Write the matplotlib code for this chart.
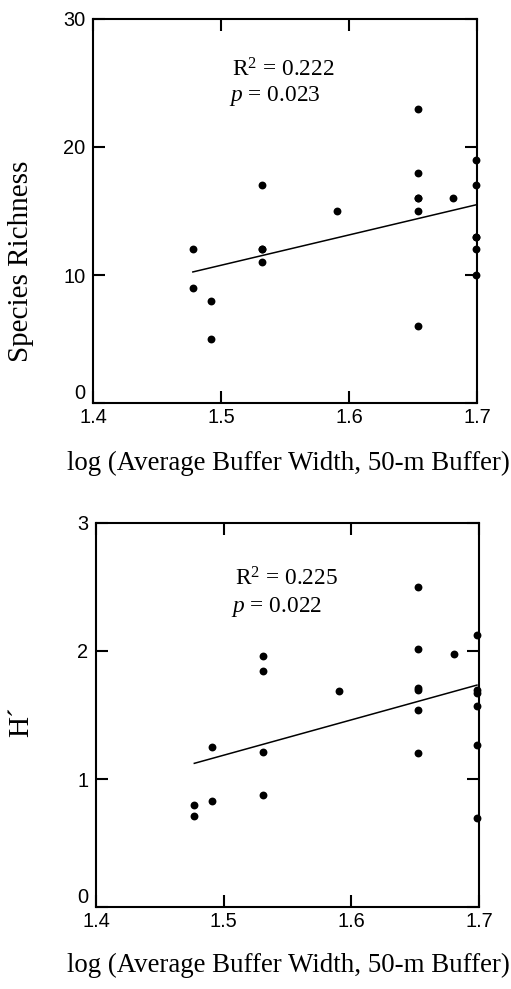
import matplotlib
matplotlib.use("Agg")
import matplotlib.pyplot as plt
import numpy as np

plt.rcParams['mathtext.fontset'] = 'custom'
plt.rcParams['mathtext.rm'] = 'Liberation Serif'
plt.rcParams['mathtext.it'] = 'Liberation Serif:italic'

# log average buffer width (50-m buffer) per site
buffer_rich = [1.478, 1.478, 1.492, 1.492, 1.532, 1.532, 1.532, 1.532,
               1.591, 1.654, 1.654, 1.654, 1.654, 1.654, 1.654, 1.6815,
               1.699, 1.699, 1.699, 1.699, 1.699, 1.699]
richness = [12, 9, 8, 5, 17, 12, 12, 11,
            15, 23, 18, 16, 16, 15, 6, 16,
            19, 17, 13, 13, 12, 10]

buffer_h = [1.477, 1.477, 1.491, 1.491, 1.531, 1.531, 1.531, 1.531,
            1.5906, 1.6526, 1.6526, 1.6526, 1.6526, 1.6526, 1.6526, 1.6807,
            1.6984, 1.6984, 1.6984, 1.6984, 1.6984, 1.6984]
shannon = [0.80, 0.713, 0.828, 1.252, 1.961, 1.841, 1.208, 0.872,
           1.6875, 2.497, 2.018, 1.711, 1.695, 1.541, 1.20, 1.976,
           2.127, 1.695, 1.669, 1.570, 1.263, 0.695]

xlab = "log (Average Buffer Width, 50-m Buffer)"
serif = "Liberation Serif"
sans = "Liberation Sans"


def panel(ax, x, y, ylim, yticks, ylabel, stats, ylab_pos, xlab_pos, stat_y):
    x, y = np.array(x), np.array(y)
    ax.scatter(x, y, s=32, c="black", zorder=3, clip_on=False, linewidths=0)
    k, b = np.polyfit(x, y, 1)
    xx = np.array([x.min(), x.max()])
    ax.plot(xx, k * xx + b, color="black", lw=1.1)

    ax.set_xlim(1.4, 1.7)
    ax.set_ylim(*ylim)
    ax.set_xticks([1.4, 1.5, 1.6, 1.7])
    ax.set_xticklabels(["1.4", "1.5", "1.6", "1.7"])
    ax.set_yticks(yticks)
    ax.set_yticklabels([str(t) for t in yticks])
    ax.tick_params(direction="in", length=8.6, width=1.5, top=True, right=True,
                   labelsize=14.4, pad=5.5)
    ax.tick_params(axis="x", pad=3.5)
    for lab in ax.get_xticklabels() + ax.get_yticklabels():
        lab.set_fontfamily(sans)
    ax.get_yticklabels()[0].set_va("bottom")
    for sp in ax.spines.values():
        sp.set_linewidth(1.5)

    ax.set_xlabel(xlab, fontsize=19.4, family=serif)
    ax.xaxis.label.set_va("baseline")
    ax.xaxis.set_label_coords(*xlab_pos)
    ax.set_ylabel(ylabel, fontsize=21, family=serif)
    ax.yaxis.label.set_va("center")
    ax.yaxis.set_label_coords(*ylab_pos)

    ax.text(1.5086, stat_y[0], stats[0], fontsize=16.8, family=serif,
            va="center", ha="left")
    ax.text(1.5060, stat_y[1], stats[1], fontsize=16.8, family=serif,
            va="center", ha="left")


fig = plt.figure(figsize=(5.11, 9.89), dpi=100)
ax1 = fig.add_axes([0.182, 0.5925, 0.7515, 0.3883])
ax2 = fig.add_axes([0.1879, 0.0829, 0.7495, 0.3883])

panel(ax1, buffer_rich, richness, (0, 30), [0, 10, 20, 30], "Species Richness",
      [r"R$^{2}$ = 0.222", r"$\mathit{p}$ = 0.023"],
      (-0.1875, 0.37), (0.508, -0.1745), (26.0, 24.0))
panel(ax2, buffer_h, shannon, (0, 3), [0, 1, 2, 3], "H\u00b4",
      [r"R$^{2}$ = 0.225", r"$\mathit{p}$ = 0.022"],
      (-0.196, 0.484), (0.5026, -0.1685), (2.56, 2.34))

fig.savefig("out.png", dpi=100)
